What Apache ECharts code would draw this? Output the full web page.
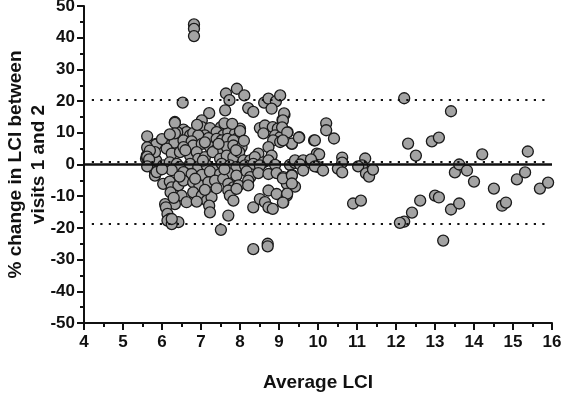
<!DOCTYPE html>
<html><head><meta charset="utf-8">
<script src="https://cdn.jsdelivr.net/npm/echarts@6/dist/echarts.min.js"></script>
<style>html,body{margin:0;padding:0;background:#fff}#c{width:562px;height:403px}</style>
</head><body><div id="c"></div>
<script>
// Average LCI (x) and % change (y)
const avgLCI = [
6.82,6.82,6.82,
7.92,7.64,8.11,7.73,6.53,7.62,8.21,8.34,8.62,8.73,8.92,8.81,9.03,9.14,9.09,7.21,6.33,7.02,
5.62,6.55,6.63,6.39,6.72,6.80,7.02,7.23,7.51,7.73,8.00,8.51,8.64,8.84,8.97,9.22,9.52,9.90,
7.40,7.57,7.70,7.87,7.94,7.10,6.93,7.19,7.40,7.53,7.68,7.83,8.90,9.03,8.85,9.03,9.33,
5.85,6.10,6.32,6.55,6.76,6.80,7.02,7.23,7.36,7.49,7.66,7.83,8.04,8.73,8.81,8.47,9.97,
5.61,5.78,6.12,6.25,6.46,6.55,6.72,6.89,6.93,7.10,7.30,7.49,7.66,7.83,7.98,8.09,8.26,8.38,8.60,8.73,
5.59,5.65,5.85,6.03,6.20,6.38,6.46,6.72,6.93,7.15,7.32,7.53,7.74,7.91,8.13,8.34,8.51,8.90,9.28,9.41,9.54,9.71,9.84,9.92,10.01,
5.82,5.82,6.25,6.55,6.76,7.02,7.23,7.49,7.70,7.91,8.17,8.26,8.47,8.73,8.94,9.11,9.33,9.35,9.20,
6.03,6.20,6.25,6.42,6.55,6.80,6.96,7.19,7.36,7.57,7.70,7.83,7.96,8.21,8.21,
6.22,6.50,6.80,7.02,7.15,7.27,7.70,7.74,7.91,8.73,8.94,9.20,
6.08,6.33,6.63,6.89,7.21,7.23,7.83,8.34,8.51,8.64,8.73,8.84,9.11,
6.10,6.14,6.20,6.42,6.14,7.70,7.51,8.34,8.71,8.71,6.25,6.25,
5.85,5.82,6.33,6.33,5.62,5.69,5.62,5.62,5.67,5.62,5.86,
9.13,9.10,9.08,9.21,9.33,9.10,9.51,9.92,10.21,10.21,10.41,10.03,
9.41,9.62,9.82,9.54,9.92,10.13,9.62,10.62,10.62,10.51,10.62,
11.21,11.13,11.03,11.23,11.31,11.41,
9.10,9.33,9.41,9.21,9.10,9.33,10.90,11.10,
12.21,12.31,12.51,12.62,12.41,12.21,12.10,
13.41,12.92,13.10,13.00,13.10,13.41,13.62,13.21,13.51,13.62,13.82,14.00,14.21,14.51,14.72,14.82,15.10,15.31,15.38,15.69,15.90,
6.00,6.20,6.90,7.60,7.80,7.45,7.10,6.60,7.90,8.00,6.45,6.85,7.40,7.60,7.05,6.30,7.10,6.00,8.10,8.60
];
const pctChange = [
44.2,42.8,40.5,
23.9,22.4,21.8,20.3,19.5,17.1,17.8,16.6,19.5,20.8,19.9,17.6,21.8,15.7,14.1,16.2,13.4,13.9,
8.9,11.0,10.2,10.2,9.2,9.9,11.8,11.5,11.8,11.8,11.3,11.5,12.3,11.8,11.3,10.2,8.6,7.6,
10.2,9.2,10.2,9.7,8.3,9.2,9.2,8.3,8.1,7.6,8.1,7.6,9.2,8.6,7.6,7.1,6.5,
6.5,6.2,6.9,7.6,7.3,6.0,6.5,5.5,4.4,4.0,5.5,6.0,5.5,5.5,2.8,3.4,3.4,
2.8,4.4,5.0,3.4,3.9,5.5,2.8,3.9,1.8,2.3,3.9,1.8,2.8,2.3,3.9,1.3,1.3,2.3,0.7,1.3,
1.8,0.7,1.3,-0.3,0.7,0.2,-0.8,0.2,-0.8,-0.3,-1.4,0.2,-0.3,-0.8,-0.3,0.2,-0.3,-0.1,-0.1,0.5,0.2,0.7,1.3,-0.3,-0.8,
-2.4,-3.5,-1.8,-2.4,-3.0,-3.3,-2.2,-3.0,-2.7,-3.5,-2.2,-4.0,-2.7,-3.0,-2.7,-4.0,-3.3,-6.6,-6.1,
-6.1,-5.4,-7.2,-6.6,-5.1,-5.6,-6.6,-5.6,-5.1,-4.5,-6.1,-7.2,-6.6,-5.1,-6.6,
-8.8,-9.8,-8.8,-9.8,-11.4,-10.3,-8.2,-9.8,-7.7,-8.2,-9.3,-9.8,
-12.5,-12.5,-11.9,-11.7,-13.0,-15.1,-11.4,-13.5,-10.9,-11.9,-13.5,-14.0,-11.9,
-13.5,-15.6,-17.2,-18.2,-17.7,-16.1,-20.6,-26.7,-25.0,-25.8,-18.8,-17.2,
6.3,3.9,13.1,9.8,5.4,4.4,2.2,2.5,1.6,-0.6,-2.4,
16.1,13.9,11.7,10.1,6.6,7.6,8.5,7.6,13.0,10.8,8.2,3.2,
1.3,1.3,1.6,0.0,-0.6,-1.9,-1.9,2.2,0.6,-1.3,-2.5,
1.9,-0.3,-0.6,-2.8,-3.8,-1.6,
-4.4,-3.5,-7.0,-9.2,-12.0,-6.0,-12.3,-11.4,
20.9,6.6,2.8,-11.4,-15.2,-18.0,-18.4,
16.8,7.3,8.5,-9.8,-10.4,-14.2,-12.3,-24.0,-2.5,0.0,-1.9,-5.4,3.2,-7.6,-13.0,-12.0,-4.7,-2.5,4.1,-7.6,-5.7,
8.0,9.5,12.5,13.0,12.8,6.5,7.0,4.5,4.5,10.5,-3.8,-4.5,-7.5,-1.5,1.2,-10.5,-8.0,-1.5,7.5,9.8
];
const xTicks = [4,5,6,7,8,9,10,11,12,13,14,15,16];
const yTicks = [-50,-40,-30,-20,-10,0,10,20,30,40,50];
const meanBias = [0.8];
const limitsOfAgreement = [20.5, -18.8];
const zeroLine = [0];

const points = avgLCI.map((x, i) => [x, pctChange[i]]);
const font = 'Liberation Sans, Arial, sans-serif';
const dotted = {color:'#111', width:2.2, type:[2.2,6.3], cap:'butt'};

const chart = echarts.init(document.getElementById('c'), null, {renderer:'canvas'});
chart.setOption({
  animation:false,
  grid:{left:84, right:10, top:6, bottom:80, containLabel:false, outerBoundsMode:'none'},
  xAxis:{
    type:'value', min:xTicks[0], max:xTicks[xTicks.length-1], interval:1,
    name:'Average LCI', nameLocation:'middle', nameGap:50, nameMoveOverlap:false,
    nameTextStyle:{fontFamily:font, fontWeight:'bold', fontSize:19, color:'#111'},
    axisLine:{show:true, onZero:false, lineStyle:{color:'#111', width:2}},
    axisTick:{show:true, length:7, lineStyle:{color:'#111', width:2}},
    minorTick:{show:true, splitNumber:2, length:4, lineStyle:{color:'#111', width:2}},
    splitLine:{show:false},
    axisLabel:{fontFamily:font, fontWeight:'bold', fontSize:17, color:'#111', margin:11}
  },
  yAxis:{
    type:'value', min:yTicks[0], max:yTicks[yTicks.length-1], interval:10,
    name:'% change in LCI between\nvisits 1 and 2', nameLocation:'middle', nameGap:34, nameMoveOverlap:false,
    nameTextStyle:{fontFamily:font, fontWeight:'bold', fontSize:19, color:'#111', lineHeight:23},
    axisLine:{show:true, onZero:false, lineStyle:{color:'#111', width:2}},
    axisTick:{show:true, length:7, lineStyle:{color:'#111', width:2}},
    minorTick:{show:true, splitNumber:2, length:4, lineStyle:{color:'#111', width:2}},
    splitLine:{show:false},
    axisLabel:{fontFamily:font, fontWeight:'bold', fontSize:17, color:'#111', margin:9}
  },
  series:[
    {
      type:'scatter', data:points, symbol:'circle', symbolSize:11, z:2,
      itemStyle:{color:'#a3a3a3', borderColor:'#1a1a1a', borderWidth:1.3, opacity:1}
    },
    {
      type:'line', data:[], z:5, silent:true,
      markLine:{
        symbol:'none', silent:true, label:{show:false}, animation:false,
        data:[
          ...zeroLine.map(v => ({yAxis:v, lineStyle:{color:'#111', width:2.5, type:'solid'}})),
          ...meanBias.map(v => [{coord:[4.2, v], lineStyle:dotted}, {coord:[15.9, v]}]),
          ...limitsOfAgreement.map(v => [{coord:[4.2, v], lineStyle:dotted}, {coord:[15.9, v]}])
        ]
      }
    }
  ]
});
</script></body></html>
